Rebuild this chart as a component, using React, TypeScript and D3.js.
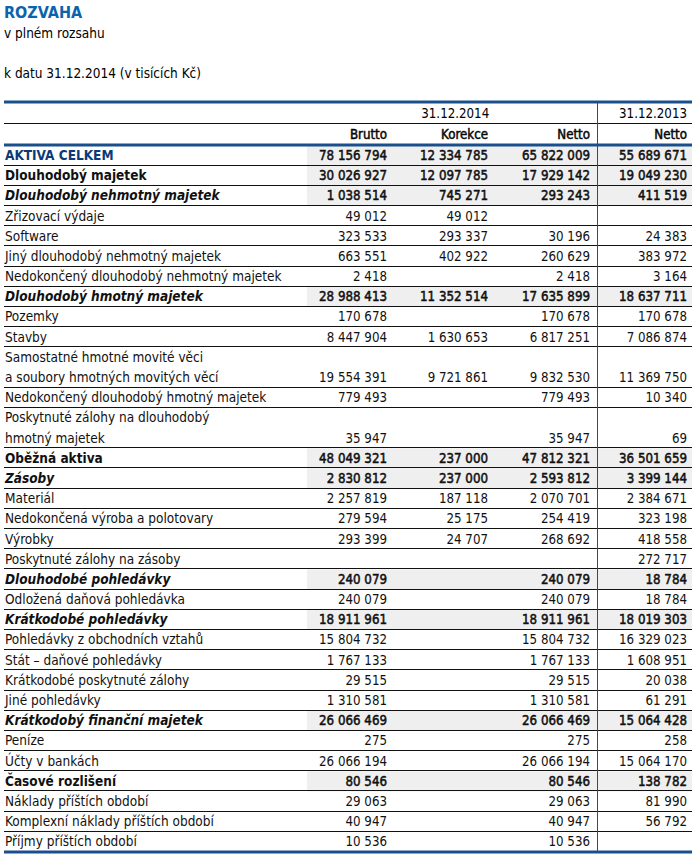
import React, { useEffect, useRef } from "react";
import * as d3 from "d3";

// Row labels (multi-line labels split with "|")
const labels = [
  "AKTIVA CELKEM",
  "Dlouhodobý majetek",
  "Dlouhodobý nehmotný majetek",
  "Zřizovací výdaje",
  "Software",
  "Jiný dlouhodobý nehmotný majetek",
  "Nedokončený dlouhodobý nehmotný majetek",
  "Dlouhodobý hmotný majetek",
  "Pozemky",
  "Stavby",
  "Samostatné hmotné movité věci|a soubory hmotných movitých věcí",
  "Nedokončený dlouhodobý hmotný majetek",
  "Poskytnuté zálohy na dlouhodobý|hmotný majetek",
  "Oběžná aktiva",
  "Zásoby",
  "Materiál",
  "Nedokončená výroba a polotovary",
  "Výrobky",
  "Poskytnuté zálohy na zásoby",
  "Dlouhodobé pohledávky",
  "Odložená daňová pohledávka",
  "Krátkodobé pohledávky",
  "Pohledávky z obchodních vztahů",
  "Stát – daňové pohledávky",
  "Krátkodobé poskytnuté zálohy",
  "Jiné pohledávky",
  "Krátkodobý finanční majetek",
  "Peníze",
  "Účty v bankách",
  "Časové rozlišení",
  "Náklady příštích období",
  "Komplexní náklady příštích období",
  "Příjmy příštích období",
];

// total | group | sub | item
const kinds = [
  "total", "group", "sub", "item", "item", "item", "item", "sub", "item", "item",
  "item", "item", "item", "group", "sub", "item", "item", "item", "item", "sub",
  "item", "sub", "item", "item", "item", "item", "sub", "item", "item", "group",
  "item", "item", "item",
];

const brutto = [
  78156794, 30026927, 1038514, 49012, 323533, 663551, 2418, 28988413, 170678, 8447904,
  19554391, 779493, 35947, 48049321, 2830812, 2257819, 279594, 293399, null, 240079,
  240079, 18911961, 15804732, 1767133, 29515, 1310581, 26066469, 275, 26066194, 80546,
  29063, 40947, 10536,
];
const korekce = [
  12334785, 12097785, 745271, 49012, 293337, 402922, null, 11352514, null, 1630653,
  9721861, null, null, 237000, 237000, 187118, 25175, 24707, null, null,
  null, null, null, null, null, null, null, null, null, null,
  null, null, null,
];
const netto = [
  65822009, 17929142, 293243, null, 30196, 260629, 2418, 17635899, 170678, 6817251,
  9832530, 779493, 35947, 47812321, 2593812, 2070701, 254419, 268692, null, 240079,
  240079, 18911961, 15804732, 1767133, 29515, 1310581, 26066469, 275, 26066194, 80546,
  29063, 40947, 10536,
];
const netto2013 = [
  55689671, 19049230, 411519, null, 24383, 383972, 3164, 18637711, 170678, 7086874,
  11369750, 10340, 69, 36501659, 3399144, 2384671, 323198, 418558, 272717, 18784,
  18784, 18019303, 16329023, 1608951, 20038, 61291, 15064428, 258, 15064170, 138782,
  81990, 56792, null,
];

const columns = ["Brutto", "Korekce", "Netto", "Netto"];
const series = [brutto, korekce, netto, netto2013];

const W = 698;
const H = 861;
const FONT = "'DejaVu Sans Condensed', 'DejaVu Sans', sans-serif";
const BLUE = "#1b4f8c";

export default function App() {
  const svgRef = useRef<SVGSVGElement>(null);

  useEffect(() => {
    const svg = d3.select(svgRef.current);
    svg.selectAll("*").remove();

    const fmt = d3.formatLocale({
      decimal: ",",
      thousands: " ",
      grouping: [3],
      currency: ["", ""],
    }).format(",d");

    const left = 4;
    const right = 692;
    const labelEnd = 307;
    const divider = 597.5;

    // column right edges for text
    const colRight = d3
      .scaleOrdinal<number, number>()
      .domain([0, 1, 2, 3])
      .range([387, 488, 590, 687]);

    // line-based row positions
    const rowsLines = labels.map((l) => l.split("|").length);
    const starts = d3.cumsum([0, ...rowsLines]);
    const totalLines = starts[starts.length - 1];
    const y = d3.scaleLinear().domain([0, totalLines]).range([145.5, 852]);

    // title
    svg
      .append("text")
      .attr("x", left)
      .attr("y", 18)
      .attr("font-family", FONT)
      .attr("font-size", 16)
      .attr("font-weight", "bold")
      .attr("fill", "#0b63ae")
      .text("ROZVAHA");
    svg
      .append("text")
      .attr("x", left)
      .attr("y", 38)
      .attr("font-family", FONT)
      .attr("font-size", 13.5)
      .text("v plném rozsahu");
    svg
      .append("text")
      .attr("x", left)
      .attr("y", 78)
      .attr("font-family", FONT)
      .attr("font-size", 13.5)
      .text("k datu 31.12.2014 (v tisících Kč)");

    // gray backgrounds for summary rows
    const body = svg.append("g");
    labels.forEach((lab, i) => {
      const k = kinds[i];
      const y0 = y(starts[i]);
      const y1 = y(starts[i] + rowsLines[i]);
      if (k !== "item") {
        body
          .append("rect")
          .attr("x", labelEnd)
          .attr("y", y0)
          .attr("width", right - labelEnd)
          .attr("height", y1 - y0)
          .attr("fill", "#efefef");
      }
    });

    labels.forEach((lab, i) => {
      const k = kinds[i];
      const y1 = y(starts[i] + rowsLines[i]);
      const lines = lab.split("|");
      const bold = k !== "item";
      lines.forEach((ln, j) => {
        body
          .append("text")
          .attr("x", left + 1)
          .attr("y", y(starts[i] + j) + 14.5)
          .attr("font-family", FONT)
          .attr("font-size", 13.5)
          .attr("font-weight", bold ? "bold" : "normal")
          .attr("font-style", k === "sub" ? "italic" : "normal")
          .attr("fill", k === "total" ? "#0a3a78" : "#111")
          .text(ln);
      });
      series.forEach((s, c) => {
        const v = s[i];
        if (v == null) return;
        body
          .append("text")
          .attr("x", colRight(c))
          .attr("y", y(starts[i] + lines.length - 1) + 14.5)
          .attr("text-anchor", "end")
          .attr("font-family", FONT)
          .attr("font-size", 13.2)
          .attr("fill", "#111")
          .attr("stroke", bold ? "#111" : "none")
          .attr("stroke-width", bold ? 0.5 : 0)
          .text(fmt(v));
      });
      if (i < labels.length - 1) {
        body
          .append("line")
          .attr("x1", left)
          .attr("x2", right)
          .attr("y1", Math.round(y1) - 0.5)
          .attr("y2", Math.round(y1) - 0.5)
          .attr("stroke", "#111")
          .attr("stroke-width", 1);
      }
    });

    // header
    const head = svg.append("g").attr("font-family", FONT).attr("font-size", 13.2);
    head
      .append("text")
      .attr("x", (labelEnd + divider) / 2 + 3)
      .attr("y", 118)
      .attr("text-anchor", "middle")
      .text("31.12.2014");
    head
      .append("text")
      .attr("x", colRight(3))
      .attr("y", 118)
      .attr("text-anchor", "end")
      .text("31.12.2013");
    columns.forEach((c, i) => {
      head
        .append("text")
        .attr("x", colRight(i))
        .attr("y", 139)
        .attr("text-anchor", "end")
        .attr("stroke", "#111")
        .attr("stroke-width", 0.5)
        .text(c);
    });
    head
      .append("line")
      .attr("x1", left)
      .attr("x2", right)
      .attr("y1", 123.5)
      .attr("y2", 123.5)
      .attr("stroke", "#111");

    // vertical divider
    svg
      .append("line")
      .attr("x1", divider)
      .attr("x2", divider)
      .attr("y1", 102)
      .attr("y2", 852)
      .attr("stroke", BLUE)
      .attr("stroke-width", 1);

    // thick blue rules
    [102, 145, 852].forEach((yy) => {
      svg
        .append("line")
        .attr("x1", left)
        .attr("x2", right)
        .attr("y1", yy)
        .attr("y2", yy)
        .attr("stroke", BLUE)
        .attr("stroke-width", 3);
    });
  }, []);

  return (
    <svg
      ref={svgRef}
      width={W}
      height={H}
      style={{ display: "block", position: "absolute", left: 0, top: 0, background: "#fff" }}
    />
  );
}
